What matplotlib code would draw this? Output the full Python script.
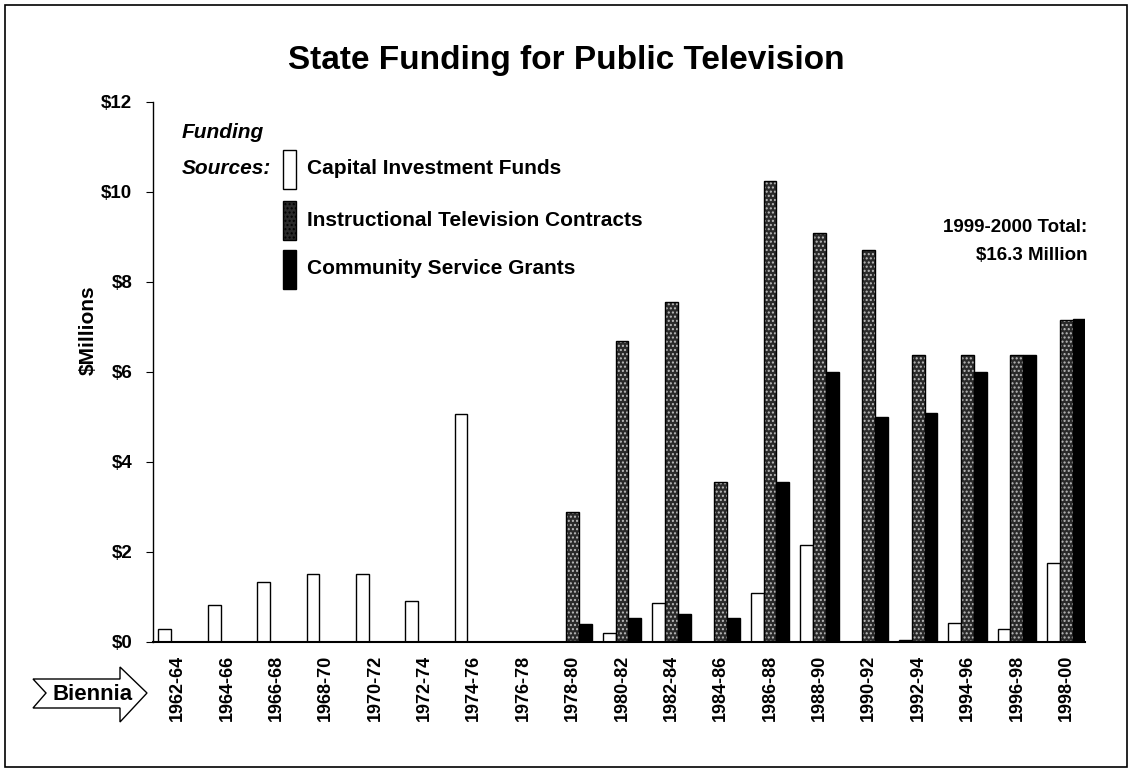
import matplotlib
matplotlib.use('Agg')
import matplotlib.pyplot as plt
from matplotlib.patches import Polygon, Rectangle
import numpy as np

# biennia and funding ($ millions)
biennia = ['1962-64', '1964-66', '1966-68', '1968-70', '1970-72', '1972-74',
           '1974-76', '1976-78', '1978-80', '1980-82', '1982-84', '1984-86',
           '1986-88', '1988-90', '1990-92', '1992-94', '1994-96', '1996-98',
           '1998-00']
capital = [0.28, 0.82, 1.33, 1.52, 1.52, 0.92, 5.07, 0, 0, 0.19, 0.86, 0,
           1.08, 2.15, 0, 0.04, 0.43, 0.28, 1.75]
instructional = [0, 0, 0, 0, 0, 0, 0, 0, 2.9, 6.7, 7.55, 3.55, 10.25, 9.1,
                 8.72, 6.38, 6.38, 6.38, 7.15]
community = [0, 0, 0, 0, 0, 0, 0, 0, 0.39, 0.54, 0.63, 0.54, 3.55, 6.0,
             5.0, 5.08, 6.0, 6.38, 7.18]
yticks = [0, 2, 4, 6, 8, 10, 12]

plt.rcParams['font.family'] = ['Liberation Sans', 'DejaVu Sans']
plt.rcParams['hatch.linewidth'] = 1.0

W, H = 1131, 772
fig = plt.figure(figsize=(W / 100, H / 100), dpi=100)


def fx(px):
    return px / W


def fy(py):
    return 1 - py / H


ax = fig.add_axes([fx(153), fy(642), fx(1085) - fx(153), fy(102) - fy(642)])

x = np.arange(len(biennia))
w = 0.26

ax.bar(x - w, capital, w, color='white', edgecolor='black', linewidth=1.0)
# speckled look for the instructional bars
ax.bar(x, instructional, w, color='#2a2a2a', edgecolor='#bbbbbb',
       hatch='....', linewidth=0)
ax.bar(x, instructional, w, fill=False, edgecolor='black', linewidth=1.0)
ax.bar(x + w, community, w, color='black', edgecolor='black', linewidth=1.0)

ax.set_xlim(-0.5, 18.38)
ax.set_ylim(0, 12)
ax.set_yticks(yticks)
ax.set_yticklabels(['$%d' % v for v in yticks], fontsize=13.5, fontweight='bold')
ax.set_xticks(x)
ax.set_xticklabels(biennia, rotation=90, fontsize=13, fontweight='bold')
ax.tick_params(axis='x', length=0, pad=9)
ax.tick_params(axis='y', length=5, width=0.8, pad=10)
for s in ['top', 'right']:
    ax.spines[s].set_visible(False)
ax.spines['left'].set_linewidth(1.0)
ax.spines['bottom'].set_linewidth(1.5)

fig.text(fx(88), fy(330), '$Millions', rotation=90, ha='center', va='center',
         fontsize=15, fontweight='bold')

fig.text(fx(566), fy(60), 'State Funding for Public Television',
         ha='center', va='center', fontsize=24, fontweight='bold')

# legend drawn by hand, like the original
fig.text(fx(182), fy(133), 'Funding', fontsize=15, fontweight='bold',
         style='italic', va='center')
fig.text(fx(182), fy(168), 'Sources:', fontsize=15, fontweight='bold',
         style='italic', va='center')
leg_rows = [(169, 'Capital Investment Funds'),
            (220, 'Instructional Television Contracts'),
            (269, 'Community Service Grants')]
pw, ph = 13, 39
for i, (yy, txt) in enumerate(leg_rows):
    r = Rectangle((fx(283), fy(yy + ph / 2)), fx(pw), ph / H,
                  transform=fig.transFigure, linewidth=1.0,
                  edgecolor='black', facecolor='white')
    if i == 1:
        r.set_facecolor('#2a2a2a')
        r.set_hatch('....')
    if i == 2:
        r.set_facecolor('black')
    fig.add_artist(r)
    fig.text(fx(307), fy(yy), txt, fontsize=15, fontweight='bold',
             va='center')

fig.text(fx(1087), fy(228), '1999-2000 Total:', ha='right', va='center',
         fontsize=13.5, fontweight='bold')
fig.text(fx(1087), fy(256), '$16.3 Million', ha='right', va='center',
         fontsize=13.5, fontweight='bold')

# "Biennia" arrow
arrow_px = [(33, 679), (120, 679), (120, 667), (147, 693), (120, 722),
            (120, 708), (33, 708), (46, 693)]
fig.add_artist(Polygon([(fx(a), fy(b)) for a, b in arrow_px], closed=True,
                       transform=fig.transFigure, facecolor='white',
                       edgecolor='black', linewidth=1.0))
fig.text(fx(93), fy(694), 'Biennia', ha='center', va='center', fontsize=16,
         fontweight='bold')

# outer frame
fig.add_artist(Rectangle((fx(5), fy(767)), fx(1122), 762 / H,
                         transform=fig.transFigure, fill=False,
                         edgecolor='black', linewidth=1.2))

fig.savefig('out.png', dpi=100)
